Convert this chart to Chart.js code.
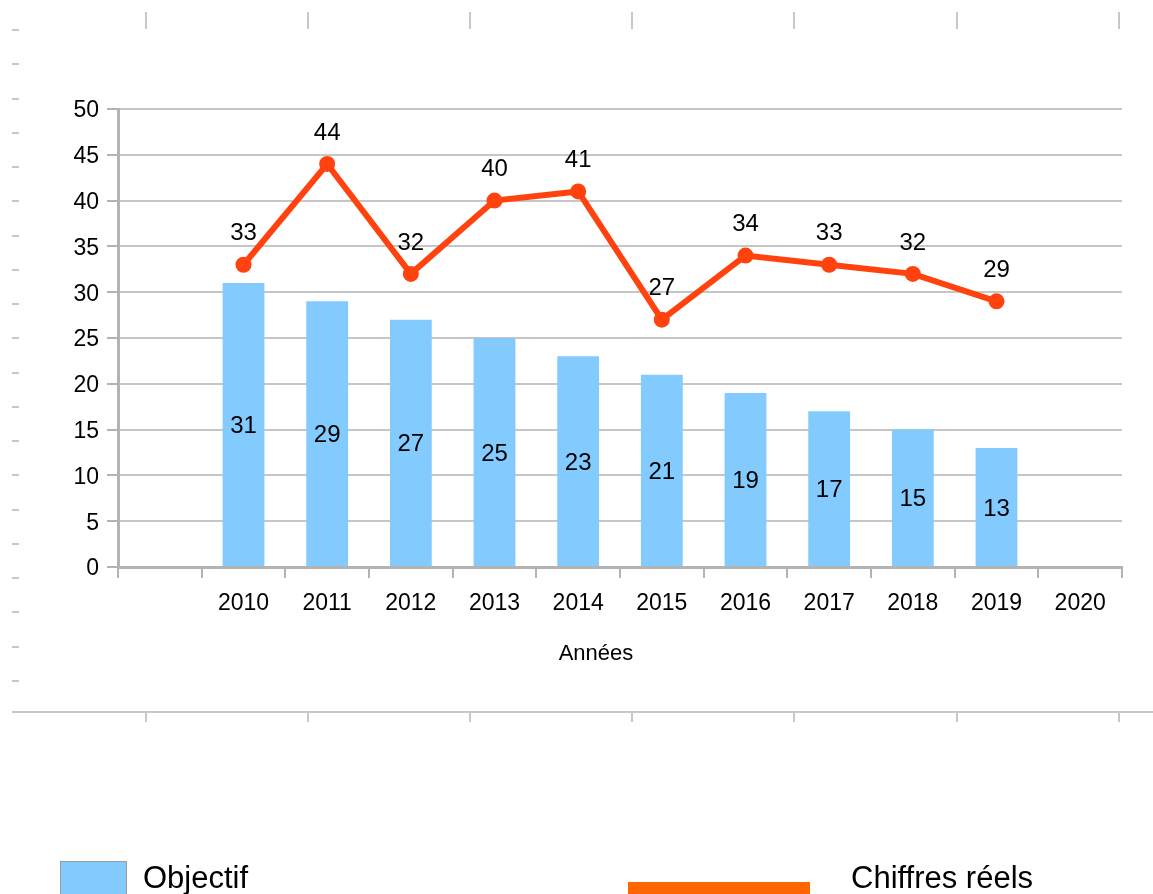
<!DOCTYPE html>
<html>
<head>
<meta charset="utf-8">
<script src="https://cdn.jsdelivr.net/npm/chart.js@4.4.0/dist/chart.umd.min.js"></script>
<style>
  body { margin: 0; background: #fff; font-family: "Liberation Sans", Arial, sans-serif; }
  #wrap { position: relative; width: 1153px; height: 894px; overflow: hidden; }
  #wrap canvas { position: absolute; left: 0; top: 0; }
  .leg-box { position: absolute; left: 60px; top: 861px; width: 65px; height: 40px; background: #83caff; border: 1px solid #9a9a9a; }
  .leg-line { position: absolute; left: 628px; top: 882px; width: 182px; height: 14px; background: #ff6600; }
  .leg-text { position: absolute; top: 860px; font-size: 31px; color: #000; white-space: nowrap; }
  .axis-title { position: absolute; left: 496px; width: 200px; top: 640px; text-align: center; font-size: 22px; color: #000; }
</style>
</head>
<body>
<div id="wrap">
  <canvas id="chart" width="1153" height="894"></canvas>
  <div class="axis-title">Années</div>
  <div class="leg-box"></div>
  <div class="leg-text" style="left:143px">Objectif</div>
  <div class="leg-line"></div>
  <div class="leg-text" style="left:851px">Chiffres réels</div>
</div>
<script>
// --- Data ---
const years = ['', '2010', '2011', '2012', '2013', '2014', '2015', '2016', '2017', '2018', '2019', '2020'];
const objectif = [null, 31, 29, 27, 25, 23, 21, 19, 17, 15, 13, null];
const chiffresReels = [null, 33, 44, 32, 40, 41, 27, 34, 33, 32, 29, null];
const yTicks = [0, 5, 10, 15, 20, 25, 30, 35, 40, 45, 50];

const fontFamily = '"Liberation Sans", Arial, sans-serif';
const gridGray = '#c6c6c6';
const axisGray = '#b3b3b3';

// value labels on bars (centred) and on line points (above)
const valueLabels = {
  id: 'valueLabels',
  afterDatasetsDraw(chart) {
    const ctx = chart.ctx;
    ctx.save();
    ctx.font = '24px ' + fontFamily;
    ctx.fillStyle = '#000';
    ctx.textAlign = 'center';
    ctx.textBaseline = 'middle';
    chart.data.datasets.forEach((ds, i) => {
      const meta = chart.getDatasetMeta(i);
      meta.data.forEach((el, j) => {
        const v = ds.data[j];
        if (v == null) return;
        if (ds.type === 'line') {
          ctx.fillText(v, el.x, el.y - 31);
        } else {
          ctx.fillText(v, el.x, (el.y + el.base) / 2 + 2);
        }
      });
    });
    ctx.restore();
  }
};

// page ruler marks around the chart
const pageMarks = {
  id: 'pageMarks',
  beforeDraw(chart) {
    const ctx = chart.ctx;
    ctx.save();
    ctx.strokeStyle = '#c8c8c8';
    ctx.lineWidth = 2;
    const xs = [146, 308, 470, 632, 794, 957, 1119];
    ctx.beginPath();
    xs.forEach(x => {
      ctx.moveTo(x, 12); ctx.lineTo(x, 29);
      ctx.moveTo(x, 712); ctx.lineTo(x, 722);
    });
    for (let k = 0; k < 20; k++) {
      const y = Math.round(30 + k * 34.25);
      ctx.moveTo(12, y); ctx.lineTo(19, y);
    }
    ctx.moveTo(12, 712); ctx.lineTo(1153, 712);
    ctx.stroke();
    ctx.restore();
  }
};

new Chart(document.getElementById('chart'), {
  type: 'bar',
  data: {
    labels: years,
    datasets: [
      {
        type: 'line',
        label: 'Chiffres réels',
        data: chiffresReels,
        borderColor: '#ff420e',
        backgroundColor: '#ff420e',
        borderWidth: 6,
        pointRadius: 8,
        pointBorderWidth: 0,
        tension: 0,
        order: 0
      },
      {
        label: 'Objectif',
        data: objectif,
        backgroundColor: '#83caff',
        barPercentage: 0.5,
        categoryPercentage: 1,
        order: 1
      }
    ]
  },
  options: {
    responsive: false,
    animation: false,
    devicePixelRatio: 1,
    layout: { padding: { left: 0, top: 109, right: 31, bottom: 217 } },
    plugins: {
      legend: { display: false },
      tooltip: { enabled: false }
    },
    scales: {
      x: {
        offset: true,
        grid: {
          offset: true,
          lineWidth: 2,
          tickLength: 11,
          tickColor: axisGray,
          color: ctx => ctx.index === years.length ? axisGray : 'rgba(0,0,0,0)'
        },
        border: { color: axisGray, width: 3 },
        ticks: {
          color: '#000',
          font: { family: fontFamily, size: 23 },
          padding: 12,
          maxRotation: 0,
          autoSkip: false
        },
        afterFit(scale) { scale.height = 110; }
      },
      y: {
        min: 0,
        max: 50,
        grid: { color: gridGray, lineWidth: 2, tickLength: 11, tickColor: axisGray },
        border: { color: axisGray, width: 3 },
        afterBuildTicks(scale) { scale.ticks = yTicks.map(v => ({ value: v })); },
        ticks: {
          color: '#000',
          font: { family: fontFamily, size: 23 },
          padding: 8,
          labelOffset: 2
        },
        afterFit(scale) { scale.width = 118; }
      }
    }
  },
  plugins: [valueLabels, pageMarks]
});
</script>
</body>
</html>
